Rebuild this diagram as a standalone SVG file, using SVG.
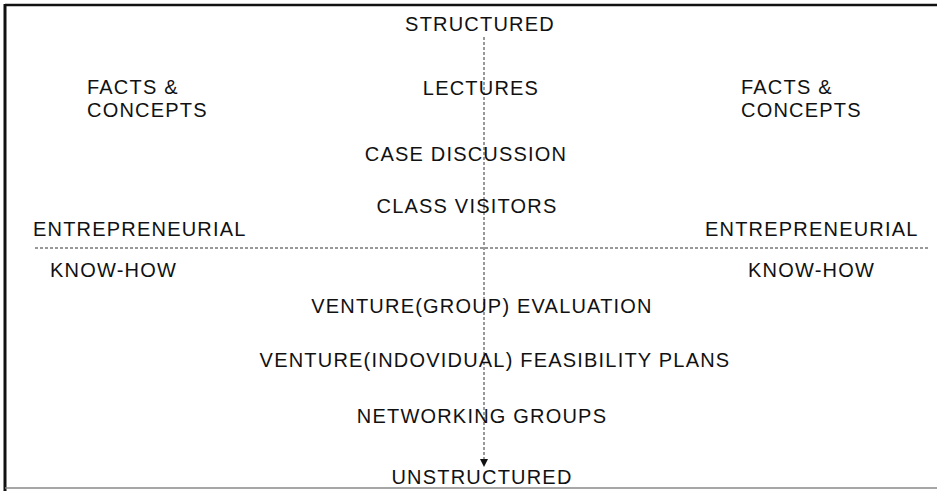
<svg xmlns="http://www.w3.org/2000/svg" width="937" height="491" viewBox="0 0 937 491">
<style>
  text { font-family: "Liberation Sans", Arial, sans-serif; font-size: 20px; letter-spacing: 1.2px; fill: #111; }
  .c { text-anchor: middle; }
  .dash { stroke: #333; stroke-width: 1; stroke-dasharray: 3 2; fill: none; }
  .frame { stroke: #111; fill: none; }
</style>
<defs>
  <marker id="arr" viewBox="0 0 10 10" refX="10" refY="5" markerWidth="8" markerHeight="8" markerUnits="userSpaceOnUse" orient="auto">
    <path d="M0,0 L10,5 L0,10 z" fill="#111"/>
  </marker>
</defs>
<rect width="937" height="491" fill="#fff"/>
<g id="frame">
  <line class="frame" x1="5" y1="5" x2="937" y2="5" stroke-width="2.5"/>
  <line class="frame" x1="5" y1="4" x2="5" y2="491" stroke-width="3"/>
  <line x1="5" y1="488" x2="937" y2="488" stroke="#888" stroke-width="1.5"/>
</g>
<g id="connectors">
  <line class="dash" x1="484" y1="37" x2="484" y2="467" marker-end="url(#arr)"/>
  <line class="dash" x1="35" y1="248" x2="928" y2="248"/>
</g>
<g id="structured"><text class="c" x="480" y="31">STRUCTURED</text></g>
<g id="facts-left"><text x="87" y="94">FACTS &amp;</text><text x="87" y="117">CONCEPTS</text></g>
<g id="lectures"><text class="c" x="481" y="95">LECTURES</text></g>
<g id="facts-right"><text x="741" y="94">FACTS &amp;</text><text x="741" y="117">CONCEPTS</text></g>
<g id="case"><text class="c" x="466" y="161">CASE DISCUSSION</text></g>
<g id="visitors"><text class="c" x="467" y="213">CLASS VISITORS</text></g>
<g id="entre-left"><text x="33" y="236">ENTREPRENEURIAL</text></g>
<g id="entre-right"><text x="705" y="236">ENTREPRENEURIAL</text></g>
<g id="know-left"><text x="50" y="277">KNOW-HOW</text></g>
<g id="know-right"><text x="748" y="277">KNOW-HOW</text></g>
<g id="group-eval"><text class="c" x="482" y="313">VENTURE(GROUP) EVALUATION</text></g>
<g id="indiv-plans"><text class="c" x="495" y="367">VENTURE(INDOVIDUAL) FEASIBILITY PLANS</text></g>
<g id="networking"><text class="c" x="482" y="423">NETWORKING GROUPS</text></g>
<g id="unstructured"><text class="c" x="482" y="484">UNSTRUCTURED</text></g>
</svg>
